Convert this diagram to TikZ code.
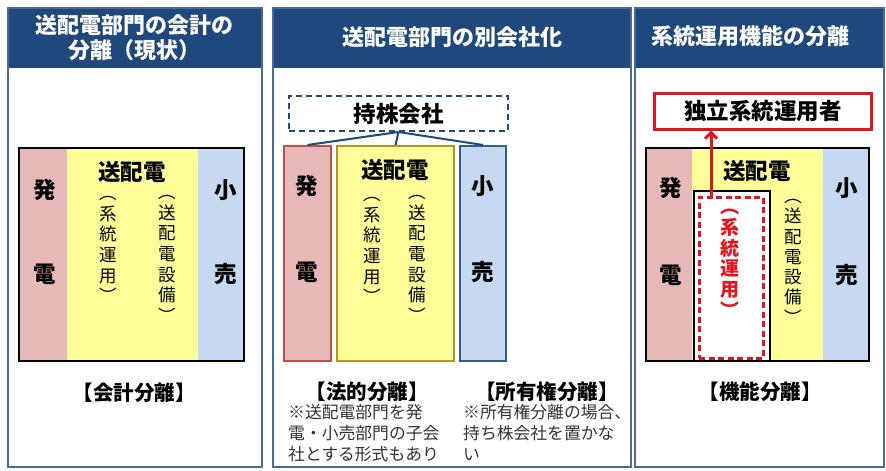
\documentclass[tikz,border=0pt]{standalone}
\usepackage{fontspec}
\setmainfont{Noto Sans CJK JP}
\usetikzlibrary{arrows.meta}
\definecolor{hdr}{HTML}{1F497D}
\definecolor{pborder}{HTML}{4A6B96}
\definecolor{pinkf}{HTML}{E6B9B8}
\definecolor{yelf}{HTML}{FFFF99}
\definecolor{bluf}{HTML}{C6D9F1}
\definecolor{pinkd}{HTML}{C0504D}
\definecolor{yeld}{HTML}{B8912A}
\definecolor{blud}{HTML}{385D8A}
\definecolor{redc}{HTML}{E3141C}
\definecolor{notec}{HTML}{333333}
\tikzset{
  panelbox/.style={draw=pborder, line width=1.3pt},
  hdrbox/.style={fill=hdr},
  htext/.style={text=white, font=\fontsize{22}{25}\selectfont\bfseries, align=center, inner sep=0pt},
  lab/.style={font=\fontsize{22.5}{23}\selectfont\bfseries, inner sep=0pt},
  sublab/.style={font=\fontsize{20.5}{22}\selectfont\bfseries, inner sep=0pt},
  vtxt/.style={font=\fontsize{17.5}{20.7}\selectfont, align=center, inner sep=0pt, anchor=north},
  notetxt/.style={font=\fontsize{16.8}{21}\selectfont, text=notec, align=left, inner sep=0pt, anchor=north west},
  colbox/.style={anchor=north west, inner sep=0pt, line width=2pt},
}
\begin{document}
\begin{tikzpicture}[x=1pt,y=-1pt]
\useasboundingbox (0,0) rectangle (886,471);
\fill[white] (0,0) rectangle (886,471);

% ---------- Panel 1 ----------
\fill[hdrbox] (8,8) rectangle (262,68);
\draw[panelbox] (8,8) rectangle (262,467);
\node[htext] (h1) at (134,38) {送配電部門の会計の\\分離（現状）};
\fill[pinkf] (18,147) rectangle (67,360);
\fill[yelf] (67,147) rectangle (198,360);
\fill[bluf] (198,147) rectangle (243,360);
\node[draw=black, line width=2pt, minimum width=225pt, minimum height=213pt, anchor=north west, inner sep=0pt] (box1) at (18,147) {};
\node[lab] (p1a) at (45,190) {発};
\node[lab] (p1b) at (45,274) {電};
\node[lab] (p1c) at (132,172) {送配電};
\node[vtxt] (p1d) at (108,196) {︵\\系\\統\\運\\用\\︶};
\node[vtxt] (p1e) at (167,195) {︵\\送\\配\\電\\設\\備\\︶};
\node[lab] (p1f) at (226,190) {小};
\node[lab] (p1g) at (226,274) {売};
\node[sublab] (p1h) at (134,393) {【会計分離】};

% ---------- Panel 2 ----------
\fill[hdrbox] (273,8) rectangle (631,68);
\draw[panelbox] (273,8) rectangle (631,467);
\node[htext] (h2) at (452,37) {送配電部門の別会社化};
\node[draw=hdr, dashed, dash pattern=on 6pt off 4pt, line width=2pt, minimum width=219pt, minimum height=35pt, anchor=north west, inner sep=0pt, font=\fontsize{22.5}{23}\selectfont\bfseries] (hold) at (288,95) {持株会社};
\node[colbox, draw=pinkd, fill=pinkf, minimum width=47pt, minimum height=215pt] (pk2) at (283,145) {};
\node[colbox, draw=yeld, fill=yelf, minimum width=117pt, minimum height=215pt] (yl2) at (336,145) {};
\node[colbox, draw=blud, fill=bluf, minimum width=46pt, minimum height=215pt] (bl2) at (459,145) {};
\draw[hdr, line width=2pt] (hold.south) -- (pk2.north);
\draw[hdr, line width=2pt] (hold.south) -- (yl2.north);
\draw[hdr, line width=2pt] (hold.south) -- (bl2.north);
\node[lab] (p2a) at (307,186) {発};
\node[lab] (p2b) at (307,272) {電};
\node[lab] (p2c) at (395,170) {送配電};
\node[vtxt] (p2d) at (372,197) {︵\\系\\統\\運\\用\\︶};
\node[vtxt] (p2e) at (417,195) {︵\\送\\配\\電\\設\\備\\︶};
\node[lab] (p2f) at (483,186) {小};
\node[lab] (p2g) at (483,272) {売};
\node[sublab] (p2h) at (367,392) {【法的分離】};
\node[sublab] (p2i) at (547,392) {【所有権分離】};
\node[notetxt] (n1) at (288,404) {※送配電部門を発\\電・小売部門の子会\\社とする形式もあり};
\node[notetxt] (n2) at (463,404) {※所有権分離の場合、\\持ち株会社を置かな\\い};

% ---------- Panel 3 ----------
\fill[hdrbox] (635,8) rectangle (884,68);
\draw[panelbox] (635,8) rectangle (884,467);
\node[htext] (h3) at (750,36) {系統運用機能の分離};
\node[draw=redc, line width=2.5pt, minimum width=217pt, minimum height=36pt, anchor=north west, inner sep=0pt, font=\fontsize{22.5}{23}\selectfont\bfseries] (iso) at (653,92) {独立系統運用者};
\fill[pinkf] (645,147) rectangle (692,360);
\fill[yelf] (692,147) rectangle (823,360);
\fill[bluf] (823,147) rectangle (868,360);
\node[draw=black, line width=2pt, minimum width=223pt, minimum height=213pt, anchor=north west, inner sep=0pt] (box3) at (645,147) {};
\node[draw=black, fill=white, line width=2pt, minimum width=76pt, minimum height=170pt, anchor=north west, inner sep=0pt] (wb) at (693,190) {};
\node[draw=redc, dashed, dash pattern=on 6pt off 3.5pt, line width=2.5pt, minimum width=64pt, minimum height=161pt, anchor=north west, inner sep=0pt] (sys) at (698,196) {};
\draw[redc, line width=3pt, -{Straight Barb[length=6pt,width=12pt]}] ([xshift=13pt]sys.north west) -- ([xshift=13pt]sys.north west |- iso.south);
\node[lab] (p3a) at (671,188) {発};
\node[lab] (p3b) at (671,275) {電};
\node[lab] (p3c) at (757,171) {送配電};
\node[vtxt, text=redc, font=\fontsize{19}{20.7}\selectfont\bfseries] (p3d) at (730,209) {︵\\系\\統\\運\\用\\︶};
\node[vtxt, font=\fontsize{17.5}{20.3}\selectfont] (p3e) at (793,199) {︵\\送\\配\\電\\設\\備\\︶};
\node[lab] (p3f) at (847,188) {小};
\node[lab] (p3g) at (847,275) {売};
\node[sublab] (p3h) at (760,392) {【機能分離】};
\end{tikzpicture}
\end{document}
